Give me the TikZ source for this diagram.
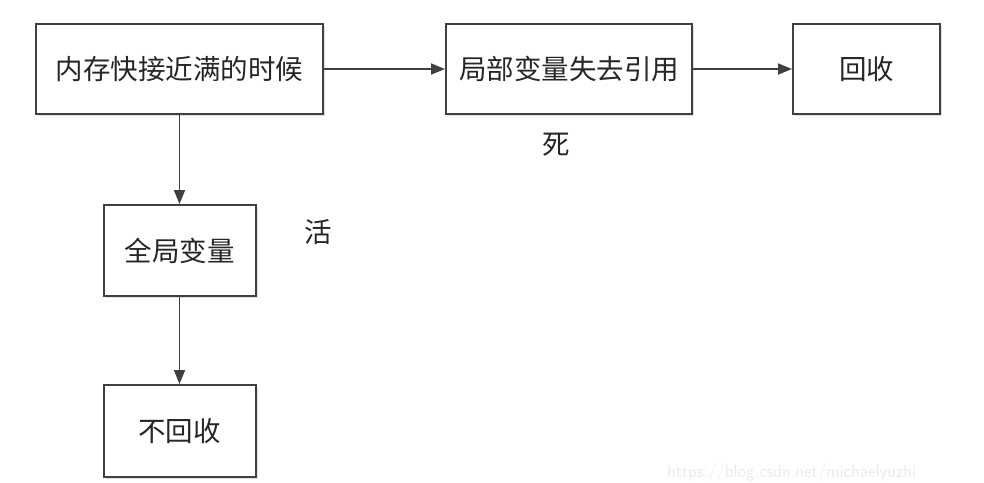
\documentclass[tikz,border=0pt]{standalone}
\usepackage{fontspec}
\newfontfamily\cjk{Noto Sans CJK SC}
\usetikzlibrary{arrows.meta,shadows}
\definecolor{linec}{HTML}{404040}
\begin{document}
\begin{tikzpicture}[x=1pt,y=-1pt,
  box/.style={draw=linec,line width=2pt,fill=white,inner sep=0pt,
    drop shadow={shadow xshift=2pt,shadow yshift=-2pt,fill=black,opacity=0.12},
    font=\cjk\fontsize{27.5}{30}\selectfont,text=black!85},
  lbl/.style={font=\cjk\fontsize{27.5}{30}\selectfont,text=black!85},
  arr/.style={draw=linec,line width=1.8pt,-{Triangle[length=14pt,width=11pt]}}]
\useasboundingbox (0,0) rectangle (984,482);
\clip (0,0) rectangle (984,482);
\node[box,minimum width=287pt,minimum height=90pt] (a) at (179.5,69) {内存快接近满的时候};
\node[box,minimum width=246pt,minimum height=90pt] (b) at (569,69) {局部变量失去引用};
\node[box,minimum width=147pt,minimum height=90pt] (c) at (866.5,69) {回收};
\node[box,minimum width=152pt,minimum height=91pt] (d) at (179.5,250.5) {全局变量};
\node[box,minimum width=152pt,minimum height=92pt] (e) at (179.5,431) {不回收};
\draw[arr] (a) -- (b);
\draw[arr] (b) -- (c);
\draw[arr] (a) -- (d);
\draw[arr] (d) -- (e);
\node[lbl] (huo) at (318,232) {活};
\node[lbl] (si) at (556,145) {死};
\node[anchor=north west,inner sep=0pt,text=black!8,font=\fontsize{18}{20}\selectfont\sffamily] (wm) at (667,464) {https://blog.csdn.net/michaelyuzhi};
\end{tikzpicture}
\end{document}
